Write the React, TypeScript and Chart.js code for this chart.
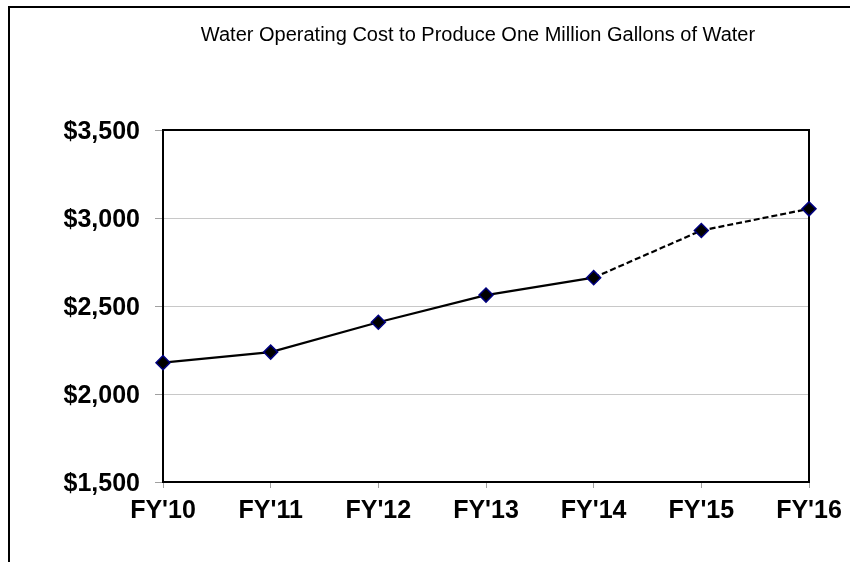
import React, { useEffect, useRef } from "react";
import { Chart, registerables } from "chart.js";

Chart.register(...registerables);

const categories = ["FY'10", "FY'11", "FY'12", "FY'13", "FY'14", "FY'15", "FY'16"];
const costValues = [2178, 2238, 2408, 2562, 2661, 2929, 3052];
const yMin = 1500;
const yMax = 3500;
const yStep = 500;
const chartTitle = "Water Operating Cost to Produce One Million Gallons of Water";

const FONT = "'Liberation Sans', Arial, Helvetica, sans-serif";

const framePlugin = {
  id: "frame",
  beforeDatasetsDraw(chart: any) {
    const { ctx, chartArea } = chart;
    ctx.save();
    ctx.strokeStyle = "#000";
    ctx.lineWidth = 2;
    ctx.strokeRect(chartArea.left, chartArea.top, chartArea.right - chartArea.left, chartArea.bottom - chartArea.top);
    ctx.restore();
  },
  afterDraw(chart: any) {
    const { ctx } = chart;
    ctx.save();
    ctx.strokeStyle = "#000";
    ctx.lineWidth = 2;
    ctx.beginPath();
    ctx.moveTo(9, 600);
    ctx.lineTo(9, 7);
    ctx.lineTo(860, 7);
    ctx.stroke();
    ctx.fillStyle = "#000";
    ctx.font = `20px ${FONT}`;
    ctx.textAlign = "center";
    ctx.textBaseline = "alphabetic";
    ctx.fillText(chartTitle, 478, 40.5);
    ctx.restore();
  },
};

export default function App() {
  const canvasRef = useRef<HTMLCanvasElement | null>(null);

  useEffect(() => {
    const canvas = canvasRef.current;
    if (!canvas) return;
    const chart = new Chart(canvas, {
      type: "line",
      data: {
        labels: categories,
        datasets: [
          {
            data: costValues,
            borderColor: "#000",
            borderWidth: 2.2,
            tension: 0,
            fill: false,
            clip: false as any,
            pointStyle: "rectRot",
            pointRadius: 7,
            pointHoverRadius: 7,
            pointBackgroundColor: "#000",
            pointBorderColor: "#000080",
            pointBorderWidth: 1.5,
            segment: {
              borderDash: (ctx: any) => (ctx.p0DataIndex >= 4 ? [6, 3] : undefined),
            },
          },
        ],
      },
      options: {
        responsive: false,
        animation: false,
        layout: { padding: { top: 130, right: 41, bottom: 0, left: 0 } },
        plugins: {
          legend: { display: false },
          title: { display: false },
          tooltip: { enabled: false },
        },
        scales: {
          x: {
            offset: false,
            border: { display: false },
            grid: {
              drawOnChartArea: false,
              drawTicks: true,
              tickLength: 6,
              tickColor: "#a0a0a0",
            },
            ticks: {
              color: "#000",
              padding: 8,
              maxRotation: 0,
              autoSkip: false,
              font: { family: FONT, size: 25, weight: "bold" },
            },
            afterFit: (scale: any) => {
              scale.height = 80;
            },
          },
          y: {
            min: yMin,
            max: yMax,
            border: { display: false },
            grid: {
              color: "#c8c8c8",
              lineWidth: 1,
              drawTicks: true,
              tickLength: 8,
              tickColor: "#a0a0a0",
            },
            ticks: {
              stepSize: yStep,
              color: "#000",
              padding: 15,
              labelOffset: 2,
              font: { family: FONT, size: 25, weight: "bold" },
              callback: (v: any) => "$" + Number(v).toLocaleString("en-US"),
            },
            afterFit: (scale: any) => {
              scale.width = 163;
            },
          },
        },
      },
      plugins: [framePlugin],
    });
    return () => chart.destroy();
  }, []);

  return (
    <div style={{ position: "fixed", left: 0, top: 0, width: 850, height: 562, background: "#fff" }}>
      <canvas ref={canvasRef} width={850} height={562} style={{ display: "block" }} />
    </div>
  );
}
